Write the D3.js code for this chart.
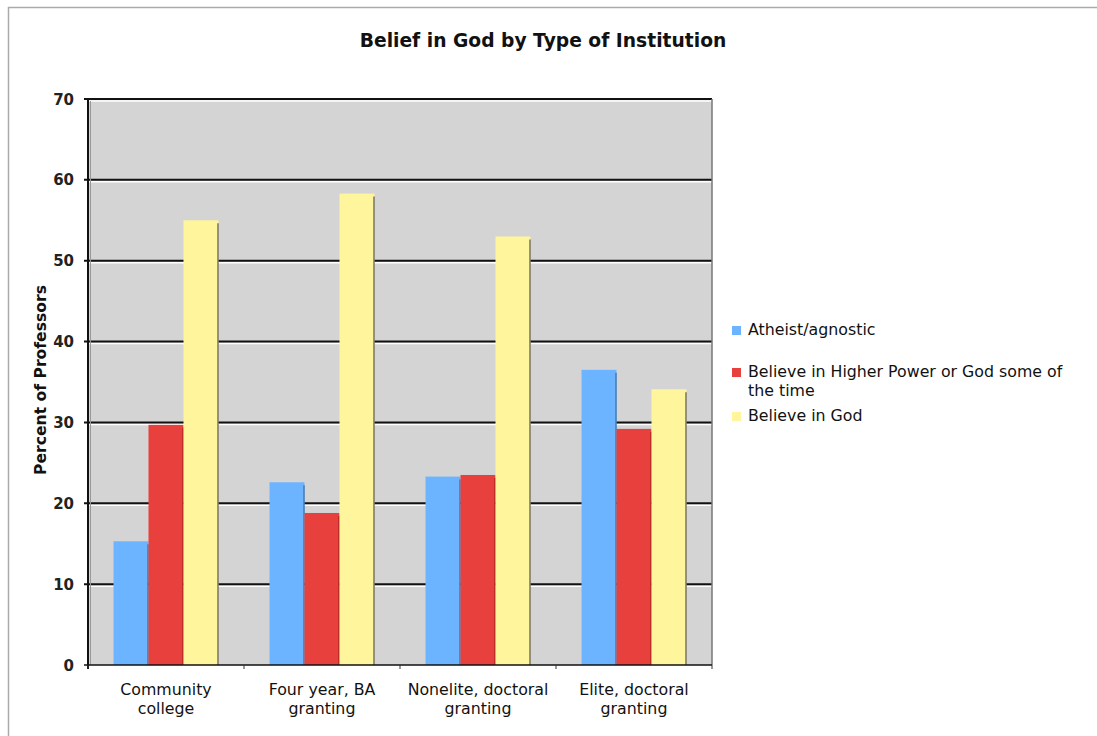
<!DOCTYPE html>
<html>
<head>
<meta charset="utf-8">
<script src="https://cdn.jsdelivr.net/npm/d3@7"></script>
<style>
  body { margin: 0; background: #fff; }
  text { font-family: "DejaVu Sans", Verdana, sans-serif; }
</style>
</head>
<body>
<svg id="chart" width="1097" height="736"></svg>
<script>
// data
let categories = [["Community", "college"], ["Four year, BA", "granting"], ["Nonelite, doctoral", "granting"], ["Elite, doctoral", "granting"]];
let seriesNames = ["Atheist/agnostic", "Believe in Higher Power or God some of the time", "Believe in God"];
let atheist = [15.3, 22.6, 23.3, 36.5];
let higherPower = [29.7, 18.8, 23.5, 29.2];
let believe = [55.0, 58.3, 53.0, 34.1];
let yTicks = [0, 10, 20, 30, 40, 50, 60, 70];

let colors = ["#6cb4ff", "#e8403c", "#fff59d"];
let edge = ["#3d6d9e", "#a0201c", "#555"];
let series = [atheist, higherPower, believe];

let svg = d3.select("#chart");

// outer frame
svg.append("rect").attr("x", 8.5).attr("y", 7.5).attr("width", 1200).attr("height", 800)
  .style("fill", "none").style("stroke", "#aaa").style("stroke-width", "1.5px");

let pLeft = 88, pRight = 712, pTop = 99, pBottom = 665;

let x = d3.scaleBand().domain(d3.range(categories.length)).range([pLeft, pRight]).padding(0);
let xs = d3.scaleBand().domain(d3.range(series.length)).range([0, 105]);
let y = d3.scaleLinear().domain([0, 70]).range([pBottom, pTop]);

// plot background
svg.append("rect").attr("x", pLeft).attr("y", pTop).attr("width", pRight - pLeft).attr("height", pBottom - pTop)
  .style("fill", "#d4d4d4");

// gridlines: black line with a white line below
svg.selectAll(".gw").data(yTicks.slice(1)).enter().append("line")
  .attr("x1", pLeft).attr("x2", pRight).attr("y1", d => y(d) + 2).attr("y2", d => y(d) + 2)
  .style("stroke", "#fff").style("stroke-width", "1.5px");
svg.selectAll(".gb").data(yTicks.slice(1)).enter().append("line")
  .attr("x1", pLeft - 4).attr("x2", pRight).attr("y1", d => y(d)).attr("y2", d => y(d))
  .style("stroke", "#111").style("stroke-width", "2px");

// bars
let groups = svg.selectAll(".grp").data(categories).enter().append("g")
  .attr("transform", (d, i) => "translate(" + (x(i) + (x.bandwidth() - 105) / 2) + ",0)");

series.forEach(function (vals, s) {
  groups.append("rect")
    .attr("x", xs(s)).attr("y", (d, i) => y(vals[i]))
    .attr("width", xs.bandwidth()).attr("height", (d, i) => pBottom - y(vals[i]))
    .style("fill", colors[s]);
  groups.append("line")
    .attr("x1", xs(s) + xs.bandwidth() - 0.5).attr("x2", xs(s) + xs.bandwidth() - 0.5)
    .attr("y1", (d, i) => y(vals[i]) + 3).attr("y2", pBottom)
    .style("stroke", edge[s]).style("stroke-width", "1.5px").style("opacity", 0.8);
});

// plot frame
svg.append("line").attr("x1", pRight).attr("x2", pRight).attr("y1", pTop).attr("y2", pBottom)
  .style("stroke", "#777").style("stroke-width", "1.5px");
svg.append("line").attr("x1", pLeft).attr("x2", pLeft).attr("y1", pTop).attr("y2", pBottom + 4)
  .style("stroke", "#111").style("stroke-width", "2px");
svg.append("line").attr("x1", pLeft + 2.5).attr("x2", pLeft + 2.5).attr("y1", pTop + 2).attr("y2", pBottom)
  .style("stroke", "#999").style("stroke-width", "1px");
svg.append("line").attr("x1", pLeft - 4).attr("x2", pRight).attr("y1", pBottom).attr("y2", pBottom)
  .style("stroke", "#111").style("stroke-width", "1.5px");

// category ticks
svg.selectAll(".xt").data(d3.range(categories.length + 1)).enter().append("line")
  .attr("x1", d => pLeft + d * x.bandwidth()).attr("x2", d => pLeft + d * x.bandwidth())
  .attr("y1", pBottom).attr("y2", pBottom + 4)
  .style("stroke", "#333").style("stroke-width", "1px");

// y tick labels
svg.selectAll(".yl").data(yTicks).enter().append("text")
  .attr("x", 74).attr("y", d => y(d) + 5.5)
  .attr("text-anchor", "end").style("font-size", "15px").style("font-weight", "bold")
  .style("fill", "#222").text(d => d);

// x labels
categories.forEach(function (lines, i) {
  lines.forEach(function (t, k) {
    svg.append("text").attr("x", x(i) + x.bandwidth() / 2).attr("y", 695 + k * 19)
      .attr("text-anchor", "middle").style("font-size", "15.8px").style("fill", "#111").text(t);
  });
});

// title
svg.append("text").attr("x", 543).attr("y", 47).attr("text-anchor", "middle")
  .style("font-size", "18.7px").style("font-weight", "bold").style("fill", "#111")
  .text("Belief in God by Type of Institution");

// y axis title
svg.append("text").attr("transform", "translate(46,380) rotate(-90)")
  .attr("text-anchor", "middle").style("font-size", "15.6px").style("font-weight", "bold")
  .style("fill", "#111").text("Percent of Professors");

// legend
let legendRows = [[seriesNames[0]], ["Believe in Higher Power or God some of", "the time"], [seriesNames[2]]];
let legendY = [335, 377, 421];
legendRows.forEach(function (lines, s) {
  svg.append("rect").attr("x", 732).attr("y", legendY[s] - 9).attr("width", 9).attr("height", 9)
    .style("fill", colors[s]);
  lines.forEach(function (t, k) {
    svg.append("text").attr("x", 748).attr("y", legendY[s] + k * 19)
      .style("font-size", "15.8px").style("fill", "#111").text(t);
  });
});
</script>
</body>
</html>
